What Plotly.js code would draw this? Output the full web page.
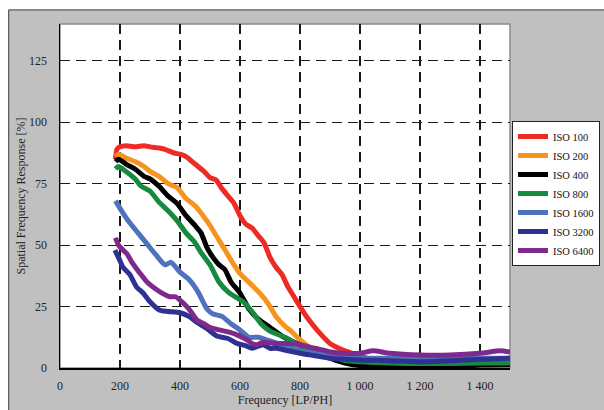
<!DOCTYPE html>
<html>
<head>
<meta charset="utf-8">
<script src="https://cdn.plot.ly/plotly-3.0.1.min.js"></script>
<style>
  html, body { margin: 0; padding: 0; background: #ffffff; }
  #chart { width: 604px; height: 410px; }
</style>
</head>
<body>
<div id="chart"></div>
<script>
// Spatial frequency response per ISO setting, frequency in LP/PH, response in %
const iso100X = [185, 190, 200, 220, 250, 280, 300, 330, 350, 380, 400, 420, 450, 480, 500, 520, 540, 560, 580, 600, 620, 640, 660, 680, 700, 720, 740, 760, 780, 800, 830, 860, 900, 950, 1000, 1050, 1100, 1200, 1300, 1400, 1500];
const iso100Y = [85, 89, 90, 90.5, 90, 90.5, 90, 89.5, 89, 87.5, 87, 86, 83, 80, 77.5, 76.5, 73, 70, 67, 62, 58.5, 57, 54, 51, 45, 41, 38, 33, 29, 25, 19.5, 15, 10, 7, 5, 3, 2, 1.5, 1.5, 1.5, 1.5];

const iso200X = [185, 195, 220, 250, 280, 300, 330, 360, 390, 420, 450, 480, 500, 520, 540, 560, 580, 600, 620, 650, 680, 700, 720, 750, 770, 800, 830, 860, 900, 950, 1000, 1100, 1200, 1300, 1400, 1500];
const iso200Y = [86, 87, 85.5, 84, 82, 80, 78, 75, 73.5, 69, 66, 61.5, 58, 54, 50, 46, 42, 38.5, 36, 32.5, 28.5, 25, 21, 17, 15, 11.5, 8.5, 7, 5, 3, 2, 1, 0.5, 0.5, 0.5, 0.5];

const iso400X = [185, 195, 220, 250, 280, 300, 330, 360, 390, 420, 450, 470, 490, 510, 530, 550, 570, 600, 630, 660, 700, 740, 790, 850, 900, 950, 1000, 1100, 1200, 1300, 1400, 1500];
const iso400Y = [84, 85, 83, 81, 78, 77, 74, 70, 67, 62, 58, 55, 49, 45, 42, 40, 35, 30.5, 24, 20, 16.5, 13, 10, 7, 4, 2, 1, 0.5, 0.3, 0.3, 1.2, 1.3];

const iso800X = [185, 195, 220, 250, 270, 300, 330, 360, 390, 420, 450, 470, 500, 530, 560, 590, 610, 640, 670, 700, 750, 800, 850, 900, 950, 1000, 1100, 1200, 1300, 1400, 1500];
const iso800Y = [81, 82, 80, 77, 74, 72, 67.5, 64, 60, 55, 51, 47, 42, 35, 31, 28.5, 27, 23, 18, 15, 12.5, 9, 6.5, 5, 3, 2.5, 2, 1.8, 1.8, 2, 2];

const iso1600X = [185, 200, 230, 260, 290, 320, 350, 370, 400, 430, 460, 490, 510, 540, 570, 600, 630, 660, 700, 740, 800, 850, 900, 1000, 1100, 1200, 1300, 1400, 1500];
const iso1600Y = [68, 65, 59.5, 55, 50.5, 46, 42, 43, 39, 36, 31, 24, 22, 21, 18, 15.5, 12.5, 12.5, 11, 9.5, 7, 6, 5, 4, 4, 3.8, 3.8, 4, 4];

const iso3200X = [183, 195, 210, 233, 255, 277, 300, 333, 360, 400, 430, 457, 490, 523, 560, 590, 620, 640, 677, 700, 723, 760, 800, 850, 900, 1000, 1100, 1200, 1300, 1400, 1500];
const iso3200Y = [48, 45, 41, 38, 33, 30.5, 27, 23.5, 23, 22.5, 21, 18.5, 16, 13, 12, 10, 9, 8, 9.5, 8, 8, 7, 6, 5, 4, 3.3, 3, 2.5, 3, 3.5, 4];

const iso6400X = [185, 195, 210, 223, 240, 267, 290, 310, 340, 367, 385, 410, 430, 457, 480, 500, 530, 567, 590, 623, 640, 657, 677, 720, 767, 800, 833, 870, 900, 950, 1000, 1044, 1100, 1200, 1300, 1400, 1467, 1500];
const iso6400Y = [53, 50, 48, 46.5, 43, 38.5, 35, 33, 30.5, 29, 29, 26.5, 24, 19.5, 18, 16.5, 15.5, 14.5, 13.5, 11.5, 10, 9.5, 10.5, 10, 10, 9.5, 8.5, 7.5, 6.5, 6, 6, 7, 6, 5.3, 5.3, 6, 7, 6.5];

const seriesNames = ['ISO 100', 'ISO 200', 'ISO 400', 'ISO 800', 'ISO 1600', 'ISO 3200', 'ISO 6400'];
const seriesX = [iso100X, iso200X, iso400X, iso800X, iso1600X, iso3200X, iso6400X];
const seriesY = [iso100Y, iso200Y, iso400Y, iso800Y, iso1600Y, iso3200Y, iso6400Y];
const seriesColors = ['#ee2a24', '#f7941e', '#000000', '#178a3e', '#4f72be', '#2e3192', '#7d2a8c'];

const xTickVals = [0, 200, 400, 600, 800, 1000, 1200, 1400];
const xTickText = ['0', '200', '400', '600', '800', '1 000', '1 200', '1 400'];
const yTickVals = [0, 25, 50, 75, 100, 125];
const yTickText = ['0', '25', '50', '75', '100', '125'];

const serif = 'Liberation Serif, Times New Roman, serif';

const traces = seriesNames.map((name, i) => ({
  type: 'scatter',
  mode: 'lines',
  name: name,
  x: seriesX[i],
  y: seriesY[i],
  line: { color: seriesColors[i], width: 5, shape: 'spline', smoothing: 0.6 },
  hoverinfo: 'skip'
}));

const layout = {
  width: 604,
  height: 410,
  margin: { l: 60, r: 94, t: 24, b: 42, autoexpand: false },
  paper_bgcolor: '#ffffff',
  plot_bgcolor: '#ffffff',
  font: { family: serif, size: 12, color: '#222222' },
  showlegend: true,
  legend: {
    x: 1.2, xanchor: 'right',
    y: 0.718, yanchor: 'top',
    bgcolor: '#ffffff',
    bordercolor: '#222222',
    borderwidth: 1,
    font: { family: serif, size: 10.5, color: '#111111' },
    itemwidth: 30,
    tracegroupgap: 0
  },
  xaxis: {
    range: [0, 1500],
    tickvals: xTickVals,
    ticktext: xTickText,
    ticks: 'outside', ticklen: 6, tickcolor: 'rgba(0,0,0,0)',
    showgrid: true, gridcolor: '#1a1a1a', gridwidth: 1.2, griddash: '10px,6px',
    zeroline: false,
    showline: true, linecolor: '#000000', linewidth: 1.5,
    title: { text: 'Frequency [LP/PH]', font: { family: serif, size: 12, color: '#222222' }, standoff: 1 },
    fixedrange: true
  },
  yaxis: {
    range: [0, 140],
    tickvals: yTickVals,
    ticktext: yTickText,
    ticks: 'outside', ticklen: 9, tickcolor: 'rgba(0,0,0,0)',
    showgrid: true, gridcolor: '#1a1a1a', gridwidth: 1.2, griddash: '10px,6px',
    zeroline: false,
    showline: true, linecolor: '#000000', linewidth: 1.5,
    title: { text: 'Spatial Frequency Response [%]', font: { family: serif, size: 12, color: '#222222' }, standoff: 1 },
    fixedrange: true
  },
  shapes: [
    // grey chart area with its dark frame
    { type: 'rect', xref: 'paper', yref: 'paper', x0: -0.114, x1: 1.25, y0: -0.15, y1: 1.041,
      fillcolor: '#c0c0c0', line: { color: '#3a3a3a', width: 1 }, layer: 'below' },
    // white plot area with a grey border
    { type: 'rect', xref: 'paper', yref: 'paper', x0: 0, x1: 1, y0: 0, y1: 1,
      fillcolor: '#ffffff', line: { color: '#8a8a8a', width: 1.5 }, layer: 'below' }
  ]
};

Plotly.newPlot('chart', traces, layout, { staticPlot: true, displayModeBar: false });
</script>
</body>
</html>
